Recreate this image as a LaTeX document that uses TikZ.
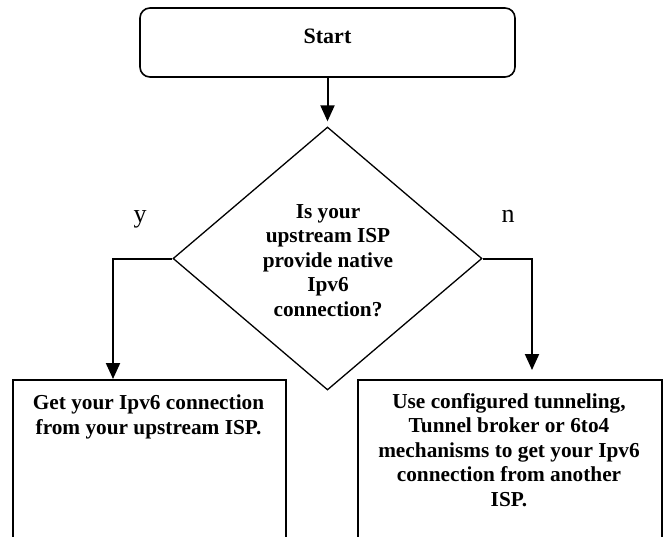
\documentclass[tikz,border=0pt]{standalone}
\usepackage{fontspec}
\setmainfont{Liberation Serif}
\usetikzlibrary{arrows.meta,shapes.geometric}
\begin{document}
\begin{tikzpicture}[x=1pt,y=-1pt,
  boxline/.style={draw=black, line width=1.6pt, inner sep=0pt},
  flow/.style={line width=2pt, -{Triangle[length=16pt,width=14pt]}},
  boldtext/.style={font=\fontsize{21.3}{24.5}\selectfont\bfseries, align=center, inner sep=0pt},
  branch/.style={font=\fontsize{26}{30}\selectfont, inner sep=0pt, anchor=base}]
\useasboundingbox (0,0) rectangle (663,536);

% start terminal
\node[boxline, rounded corners=10pt, minimum width=375pt, minimum height=69pt] (start) at (327.5,42.5) {};
\node[anchor=base, inner sep=0pt, font=\fontsize{22}{26}\selectfont\bfseries] (starttext) at (327.5,43) {Start};

% decision
\node[draw=black, line width=1.3pt, diamond, minimum width=309pt, minimum height=263pt, inner sep=0pt] (dec) at (327.5,258.5) {};
\node[boldtext, anchor=north] (qtext) at (328,204) {Is your\\upstream ISP\\provide native\\Ipv6\\connection?};

% outcome boxes
\node[boxline, line width=2pt, minimum width=273pt, minimum height=170pt, anchor=north west] (yes) at (12,379) {};
\node[boxline, line width=2pt, minimum width=304pt, minimum height=170pt, anchor=north west] (no) at (357,379) {};
\node[boldtext, anchor=north] (yestext) at (148.5,395) {Get your Ipv6 connection\\from your upstream ISP.};
\node[boldtext, anchor=north] (notext) at (509,393) {Use configured tunneling,\\Tunnel broker or 6to4\\mechanisms to get your Ipv6\\connection from another\\ISP.};

% branch labels
\node[branch] (ylabel) at (140,222) {y};
\node[branch] (nlabel) at (508,222) {n};

% connectors
\coordinate (ybend) at (113,256);
\coordinate (nbend) at (532,256);
\draw[flow, shorten >=5pt] (start) -- (dec.north);
\draw[flow] (dec.west) -| (ybend |- yes.north);
\draw[flow, shorten >=9pt] (dec.east) -| (nbend |- no.north);
\end{tikzpicture}
\end{document}
